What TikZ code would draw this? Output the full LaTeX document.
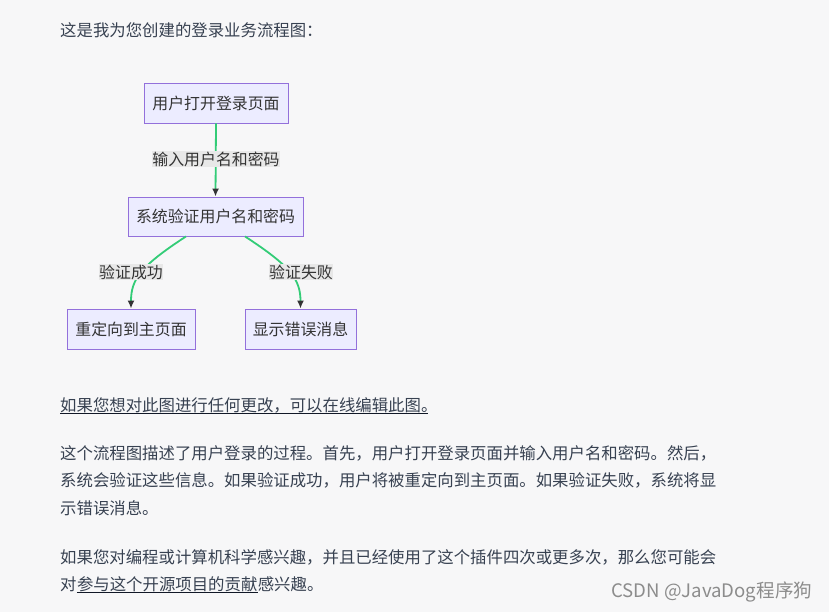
\documentclass[tikz,border=0pt]{standalone}
\usepackage{fontspec}
\setmainfont{Noto Sans CJK SC}
\usetikzlibrary{calc,arrows.meta}
\definecolor{bgc}{HTML}{F7F7F8}
\definecolor{boxfill}{HTML}{ECECFF}
\definecolor{boxline}{HTML}{9370DB}
\definecolor{edgec}{HTML}{33CC77}
\definecolor{lblfill}{HTML}{E8E8E8}
\definecolor{txtc}{HTML}{333333}
\definecolor{bodyc}{HTML}{374151}
\definecolor{linkc}{HTML}{111827}
\tikzset{
	flowbox/.style={draw=boxline, fill=boxfill, line width=0.9pt, text=txtc, inner sep=0pt, minimum height=40pt, font=\fontsize{15.9}{19}\selectfont},
	edgelbl/.style={fill=lblfill, text=txtc, inner xsep=0.5pt, inner ysep=1pt, font=\fontsize{15.9}{19}\selectfont},
	flowedge/.style={draw=edgec, line width=1.8pt, -{Latex[length=8pt,width=7pt,color=txtc]}},
	bodytxt/.style={anchor=base west, inner sep=0pt, text=bodyc, font=\fontsize{16.4}{20}\selectfont},
	ulink/.style={draw=linkc, line width=1.4pt}
}
\begin{document}
\begin{tikzpicture}[x=1pt, y=-1pt]
		%%%%% START %%%%%
		\fill[bgc] (0, 0) rectangle (829, 612);
		\useasboundingbox (0, 0) rectangle (829, 612);
		
		\node[bodytxt] (head) at (60, 37) {这是我为您创建的登录业务流程图：};
		
		% flow chart
		\node[flowbox, minimum width=144pt] (open) at (216, 103) {用户打开登录页面};
		\node[flowbox, minimum width=175pt, minimum height=39pt] (check) at (215.5, 216.5) {系统验证用户名和密码};
		\node[flowbox, minimum width=128pt] (home) at (131, 329) {重定向到主页面};
		\node[flowbox, minimum width=111pt] (err) at (300.5, 329) {显示错误消息};
		
		\coordinate (okout) at ($(check.south)+(-29.5, 0)$);
		\coordinate (failout) at ($(check.south)+(29.5, 0)$);
		
		\draw[flowedge] (open.south) -- (check.north);
		\draw[flowedge] (okout) .. controls ($(okout)+(-46, 30)$) and ($(home.north)+(0, -29)$) .. (home.north);
		\draw[flowedge] (failout) .. controls ($(failout)+(46, 30)$) and ($(err.north)+(0, -29)$) .. (err.north);
		
		\node[edgelbl] (lblin) at (216, 159) {输入用户名和密码};
		\node[edgelbl] (lblok) at (131, 272) {验证成功};
		\node[edgelbl] (lblfail) at (301, 272) {验证失败};
		
		% text below
		\node[bodytxt] (edit) at (60, 411) {如果您想对此图进行任何更改，可以在线编辑此图。};
		\draw[ulink] ($(edit.base west)+(0, 2.5)$) -- (428, 413.5);
		
		\node[bodytxt] (p1) at (60, 459) {这个流程图描述了用户登录的过程。首先，用户打开登录页面并输入用户名和密码。然后，};
		\node[bodytxt] (p2) at (60, 486) {系统会验证这些信息。如果验证成功，用户将被重定向到主页面。如果验证失败，系统将显};
		\node[bodytxt] (p3) at (60, 514) {示错误消息。};
		
		\node[bodytxt] (q1) at (60, 563) {如果您对编程或计算机科学感兴趣，并且已经使用了这个插件四次或更多次，那么您可能会};
		\node[bodytxt] (q2) at (60, 590) {对};
		\node[bodytxt] (proj) at (q2.base east) {参与这个开源项目的贡献};
		\node[bodytxt] (q3) at (proj.base east) {感兴趣。};
		\draw[ulink] ($(proj.base west)+(0, 2.5)$) -- ($(proj.base east)+(0, 2.5)$);
		
		\node[anchor=west, inner sep=0pt, text=black!45, font=\fontsize{18.6}{22}\selectfont] (mark) at (611, 592) {CSDN @JavaDog程序狗};
		%%%%% END %%%%%
	\end{tikzpicture}
\end{document}
